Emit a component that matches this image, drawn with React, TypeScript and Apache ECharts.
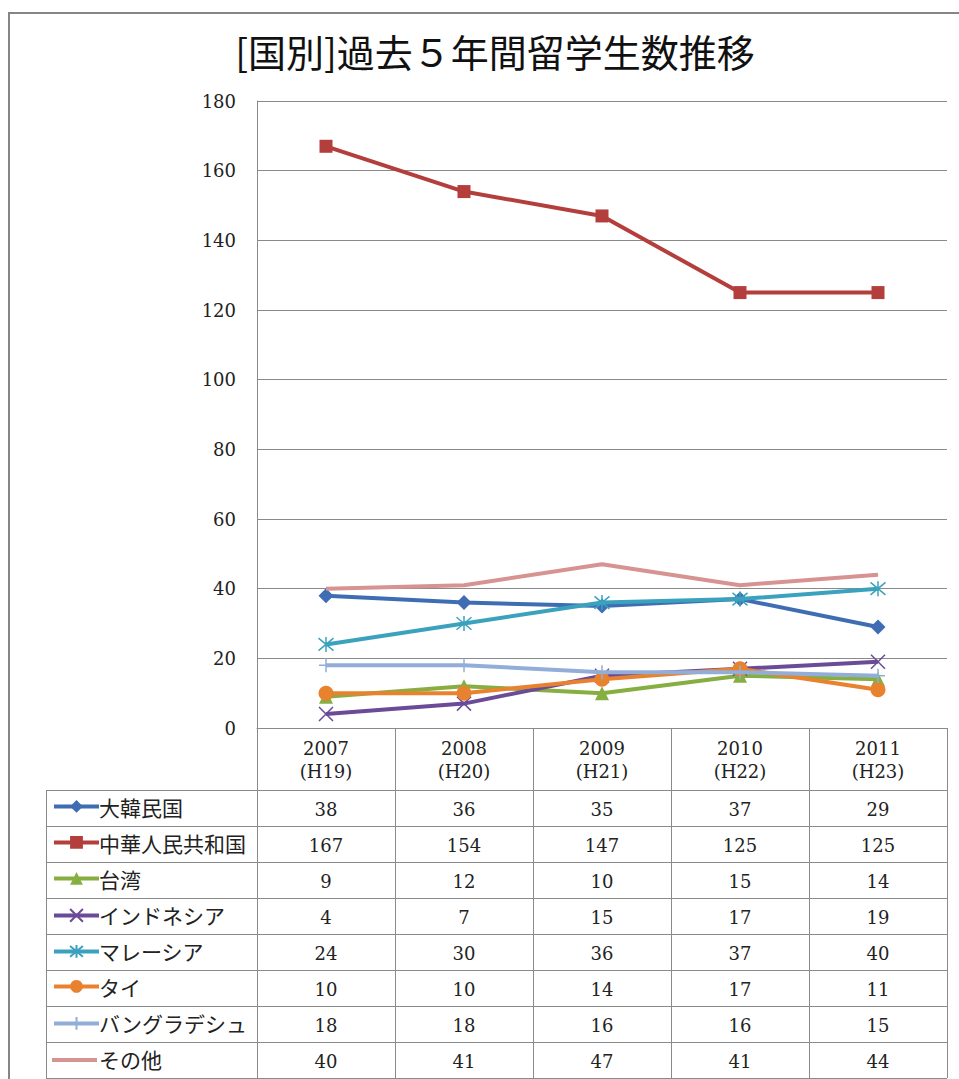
import React, { useEffect, useRef } from "react";
import * as echarts from "echarts";

const titleText = "[国別]過去５年間留学生数推移";
const years = ["2007", "2008", "2009", "2010", "2011"];
const eras = ["(H19)", "(H20)", "(H21)", "(H22)", "(H23)"];
const yTicks = { min: 0, max: 180, interval: 20 };

const seriesNames = [
  "大韓民国",
  "中華人民共和国",
  "台湾",
  "インドネシア",
  "マレーシア",
  "タイ",
  "バングラデシュ",
  "その他",
];
const korea = [38, 36, 35, 37, 29];
const china = [167, 154, 147, 125, 125];
const taiwan = [9, 12, 10, 15, 14];
const indonesia = [4, 7, 15, 17, 19];
const malaysia = [24, 30, 36, 37, 40];
const thai = [10, 10, 14, 17, 11];
const bangladesh = [18, 18, 16, 16, 15];
const others = [40, 41, 47, 41, 44];
const seriesValues = [korea, china, taiwan, indonesia, malaysia, thai, bangladesh, others];

const colors = ["#3E6DB3", "#B33E3B", "#86AE41", "#6B4B97", "#3AA2BD", "#E9822F", "#92AED8", "#D79391"];
const symbols = [
  "diamond",
  "rect",
  "triangle",
  "path://M0,0L10,10M10,0L0,10",
  "path://M0,0L10,10M10,0L0,10M5,-1L5,11",
  "circle",
  "path://M5,0L5,10M0,5L10,5",
  "none",
];
const symbolSizes = [15, 13, 14, 14, 15, 15, 14, 0];

// layout constants
const W = 959;
const H = 1079;
const plotLeft = 257;
const plotRight = 947;
const plotTop = 101;
const plotBottom = 728;
const tableTop = 790;
const rowH = 36;
const tableLeft = 46;
const lineColor = "#8a8a8a";
const serif = "DejaVu Serif";
const cjk = "Noto Sans CJK JP";

export default function App() {
  const ref = useRef<HTMLDivElement>(null);
  useEffect(() => {
    if (!ref.current) return;
    const chart = echarts.init(ref.current, undefined, { renderer: "svg" });
    const nCols = years.length;
    const colW = (plotRight - plotLeft) / nCols;
    const nRows = seriesNames.length;
    const tableBottom = tableTop + rowH * nRows;

    const graphics: any[] = [];
    graphics.push({
      type: "rect",
      shape: { x: 9, y: 13, width: W, height: H },
      style: { fill: "none", stroke: "#858585", lineWidth: 2 },
      silent: true,
    });
    for (let i = 0; i <= nRows; i++) {
      const y = tableTop + rowH * i + 0.5;
      graphics.push({
        type: "line",
        shape: { x1: tableLeft, y1: y, x2: plotRight, y2: y },
        style: { stroke: lineColor, lineWidth: 1 },
        silent: true,
      });
    }
    graphics.push({
      type: "line",
      shape: { x1: tableLeft + 0.5, y1: tableTop, x2: tableLeft + 0.5, y2: tableBottom },
      style: { stroke: lineColor, lineWidth: 1 },
      silent: true,
    });
    for (let j = 0; j <= nCols; j++) {
      const x = Math.round(plotLeft + colW * j) + 0.5;
      graphics.push({
        type: "line",
        shape: { x1: x, y1: plotBottom, x2: x, y2: tableBottom },
        style: { stroke: lineColor, lineWidth: 1 },
        silent: true,
      });
    }
    seriesValues.forEach((vals, i) => {
      vals.forEach((v, j) => {
        graphics.push({
          type: "text",
          x: plotLeft + colW * j + colW / 2,
          y: tableTop + rowH * i + rowH / 2 + 1,
          style: {
            text: String(v),
            fontSize: 18,
            fontFamily: serif,
            fill: "#222",
            align: "center",
            verticalAlign: "middle",
          },
          silent: true,
        });
      });
    });
    // series names in the legend column
    seriesNames.forEach((name, i) => {
      graphics.push({
        type: "text",
        x: 99,
        y: tableTop + rowH * i + rowH / 2 - 1,
        style: {
          text: name,
          fontSize: 21,
          fontFamily: cjk,
          fill: "#222",
          align: "left",
          verticalAlign: "middle",
        },
        silent: true,
      });
    });

    const legends = seriesNames.map((name, i) => {
      const noSym = symbols[i] === "none";
      const ih = noSym ? 4 : 16;
      return {
        data: [noSym ? { name, icon: "rect" } : name],
        orient: "horizontal",
        left: 52,
        top: tableTop + rowH * i + (rowH - ih) / 2,
        padding: 0,
        itemWidth: 45,
        itemHeight: ih,
        itemGap: 0,
        selectedMode: false,
        lineStyle: { width: 4 },
        formatter: () => "",
        textStyle: { fontSize: 1, lineHeight: 1 },
      };
    });

    const series = seriesNames.map((name, i) => ({
      name,
      type: "line",
      data: seriesValues[i],
      symbol: symbols[i],
      symbolSize: symbolSizes[i],
      showSymbol: symbols[i] !== "none",
      lineStyle: { color: colors[i], width: 4 },
      itemStyle: {
        color: colors[i],
        borderColor: colors[i],
        borderWidth: i === 3 || i === 4 || i === 6 ? 1.5 : 0,
      },
      emphasis: { disabled: true },
      z: 2 + i,
    }));

    chart.setOption({
      animation: false,
      title: {
        text: titleText,
        left: 490,
        top: 26,
        textAlign: "center",
        textStyle: { fontSize: 38, fontWeight: "normal", fontFamily: cjk, color: "#111" },
      },
      grid: {
        left: plotLeft,
        right: W - plotRight,
        top: plotTop,
        bottom: H - plotBottom,
        containLabel: false,
      },
      legend: legends,
      xAxis: {
        type: "category",
        data: years.map((y, i) => y + "\n" + eras[i]),
        boundaryGap: true,
        axisLine: { show: true, lineStyle: { color: lineColor, width: 1 } },
        axisTick: { show: false },
        axisLabel: {
          margin: 9,
          fontSize: 18,
          lineHeight: 23,
          fontFamily: serif,
          color: "#222",
          interval: 0,
        },
      },
      yAxis: {
        type: "value",
        min: yTicks.min,
        max: yTicks.max,
        interval: yTicks.interval,
        axisLine: { show: true, lineStyle: { color: lineColor, width: 1 } },
        axisTick: { show: false },
        splitLine: { show: true, lineStyle: { color: lineColor, width: 1 } },
        axisLabel: { margin: 21, fontSize: 18, fontFamily: serif, color: "#222" },
      },
      series,
      graphic: graphics,
    });
    return () => chart.dispose();
  }, []);
  return (
    <div
      ref={ref}
      style={{ position: "fixed", left: 0, top: 0, width: W, height: H, background: "#fff" }}
    />
  );
}
